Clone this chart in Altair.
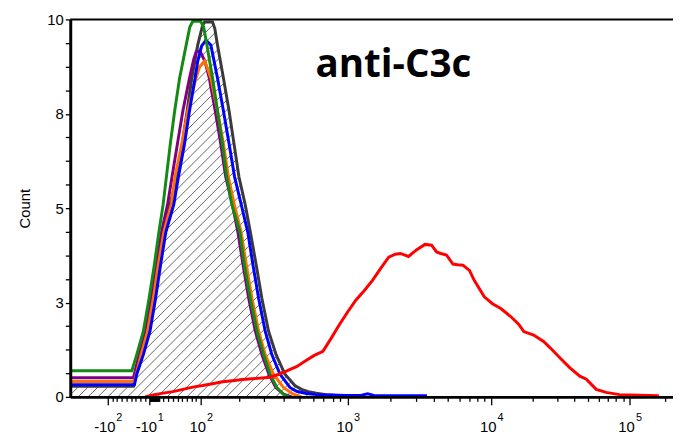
import altair as alt
import pandas as pd

# x = display channel along the biexponential fluorescence axis, y = count
gray_ch = [0, 64, 66, 72, 79, 84.5, 89.5, 95, 101, 108, 113.3, 118.3, 123, 129, 134, 136, 144, 146.3, 149, 155, 160.7,
           165.7, 170.7, 177, 182.3, 188.3, 194, 200.7, 208.3, 217.3, 227.3, 234, 241, 249, 259, 269, 279]
gray_ct = [0.28, 0.28, 0.55, 1.12, 1.74, 2.6, 3.48, 4.36, 5.1, 5.83, 6.71, 7.58, 8.45, 9.32, 9.85, 9.93, 9.93, 9.76, 9.32,
           8.45, 7.58, 6.71, 5.83, 5.1, 4.36, 3.48, 2.6, 1.74, 1.12, 0.6, 0.3, 0.2, 0.14, 0.1, 0.06, 0.04, 0]

purple_ch = [0, 64, 69.7, 75.7, 81.7, 87.3, 92.3, 98.5, 103, 108.5, 114, 120.7, 125, 127.5, 131.5, 136.3, 140.7, 146.7,
             152.3, 157.3, 164, 169.7, 175, 180.7, 187.3, 194, 201, 208, 216, 224]
purple_ct = [0.51, 0.51, 1.12, 1.74, 2.6, 3.48, 4.36, 5.1, 5.83, 6.71, 7.58, 8.45, 8.95, 9.15, 9.15, 8.89, 8.45, 7.58,
             6.71, 5.83, 5.1, 4.36, 3.48, 2.6, 1.74, 1.12, 0.6, 0.25, 0.07, 0]

orange_ch = [0, 65, 71.7, 78.3, 84, 89, 94.7, 102.3, 106, 113, 119, 127.3, 131, 136, 139, 142.3, 149, 155, 160, 166,
             173, 178.3, 184, 190.7, 197.3, 205.7, 215.7, 225.7, 234]
orange_ct = [0.41, 0.41, 1.12, 1.74, 2.6, 3.48, 4.36, 5.1, 5.83, 6.71, 7.58, 8.45, 8.75, 8.9, 8.7, 8.45, 7.58, 6.71,
             5.83, 5.1, 4.36, 3.48, 2.6, 1.74, 1.12, 0.6, 0.25, 0.07, 0]

blue_ch = [0, 65, 67.3, 74, 80.7, 86.3, 91.3, 96.7, 104.8, 109.5, 115.7, 120.7, 126.3, 129, 133, 137.3, 142.3, 149, 155,
           160.7, 166.3, 173, 179.7, 185, 190.7, 197.3, 204, 212.3, 222.3, 229, 239, 249, 264, 279, 294, 301, 307,
           329, 361]
blue_ct = [0.32, 0.32, 0.6, 1.12, 1.74, 2.6, 3.48, 4.36, 5.1, 5.83, 6.71, 7.58, 8.45, 8.89, 9.3, 9.45, 9.32, 8.45, 7.58,
           6.71, 5.83, 5.1, 4.36, 3.48, 2.6, 1.74, 1.12, 0.6, 0.25, 0.15, 0.09, 0.06, 0.05, 0.04, 0.04, 0.08, 0.04,
           0.03, 0.03]

green_ch = [0, 62.3, 67.3, 74, 79.7, 85, 89.7, 94, 97.3, 101.3, 105.7, 110.7, 117.3, 121, 124, 132, 135, 138.3, 144, 149,
            154, 158.3, 163.5, 171.7, 176.3, 182.3, 189, 195.7, 202.3, 209, 215.7, 221]
green_ct = [0.69, 0.69, 1.12, 1.74, 2.6, 3.48, 4.36, 5.1, 5.83, 6.71, 7.58, 8.45, 9.32, 9.8, 9.95, 9.95, 9.8, 9.32, 8.45,
            7.58, 6.71, 5.83, 5.1, 4.36, 3.48, 2.6, 1.74, 1.12, 0.6, 0.25, 0.07, 0]

red_ch = [75.7, 84, 94, 104, 114, 124, 134, 144, 154, 164, 174, 184, 194, 202, 209, 216, 222, 229, 239, 247, 255.7, 264,
          272.3, 280.7, 289, 297, 305.7, 314, 322.3, 329, 334, 338, 342.3, 350.7, 359, 365.7, 370.7, 375, 380.7,
          387.3, 392, 397.3, 404, 409, 419, 427.3, 435.7, 445.7, 454, 459, 469, 479, 485.7, 495.7, 505.7, 515.7,
          522.3, 532.3, 542.3, 555.7, 595.7]
red_ct = [0, 0.05, 0.1, 0.14, 0.2, 0.26, 0.3, 0.35, 0.4, 0.43, 0.46, 0.48, 0.5, 0.52, 0.58, 0.65, 0.72, 0.8, 0.97, 1.1,
          1.21, 1.55, 1.91, 2.25, 2.56, 2.8, 3.08, 3.4, 3.7, 3.78, 3.8, 3.76, 3.72, 3.9, 4.04, 4.02, 3.84, 3.8, 3.76,
          3.52, 3.5, 3.49, 3.35, 3.08, 2.65, 2.47, 2.34, 2.13, 1.92, 1.73, 1.64, 1.47, 1.3, 1.03, 0.77, 0.55, 0.47,
          0.2, 0.12, 0.06, 0.03]

# axis: major tick channels with their labels (base, exponent)
major_ch = [38, 80, 132, 280.7, 426, 566]
major_base = ["-10", "-10", "10", "10", "10", "10"]
major_exp = ["2", "1", "2", "3", "4", "5"]
minor_ch = [42.7, 47.4, 52.1, 56.8, 61.5, 66.2, 70.9, 75.6,
            80.5, 81, 81.2, 81.7, 82.2, 82.6, 83.1, 83.6, 84.1, 84.5, 85, 85.5, 85.9, 86.4, 86.9, 87.4, 87.8, 88.3,
            88.8, 89.2, 89.7,
            94.4, 99.1, 103.8, 108.5, 113.2, 117.9, 122.6, 127.3,
            170.7, 196.3, 215.7, 232.3, 245.7, 256.3, 266.3, 273.3,
            324.4, 350, 368.2, 382.3, 393.8, 403.5, 411.9, 419.4,
            468.1, 492.8, 510.3, 523.9, 534.9, 544.3, 552.4, 559.6, 602]
y_ticks = [i * 0.625 for i in range(17)]

colors = {"gray": "#3a3a3a", "purple": "#800080", "orange": "#ff7000",
          "blue": "#0000ff", "green": "#138a13", "red": "#ff0000"}
series = [("gray", gray_ch, gray_ct), ("purple", purple_ch, purple_ct), ("orange", orange_ch, orange_ct),
          ("blue", blue_ch, blue_ct), ("green", green_ch, green_ct), ("red", red_ch, red_ct)]

rows = []
for name, chs, cts in series:
    for i, (c, v) in enumerate(zip(chs, cts)):
        rows.append({"series": name, "ch": c, "count": v, "idx": i})
df = pd.DataFrame(rows)

mask_df = pd.DataFrame({"ch": gray_ch + [610], "count": gray_ct + [0]})
major_df = pd.DataFrame({"ch": major_ch, "base": major_base, "exp": major_exp,
                         "neg": [b.startswith("-") for b in major_base]})
frame_df = pd.DataFrame({"ch": [0], "ch2": [610], "count": [10]})

W, H = 610, 382
FONT = "Liberation Sans"
xscale = alt.Scale(domain=[0, 610], zero=False, nice=False)
yscale = alt.Scale(domain=[0, 10], zero=False, nice=False)
all_xticks = sorted(major_ch + minor_ch)
major_test = "indexof([" + ",".join(str(v) for v in major_ch) + "], datum.value) >= 0"

X = alt.X("ch:Q", scale=xscale, title=None,
          axis=alt.Axis(values=all_xticks, labels=False, grid=False, domainColor="black", domainWidth=3,
                        tickColor="black", tickWidth=1.3,
                        tickSize={"condition": {"test": major_test, "value": 8}, "value": 4.5},
                        zindex=1))
Y = alt.Y("count:Q", scale=yscale, title="Count",
          axis=alt.Axis(values=y_ticks, grid=False, domainColor="black", domainWidth=3, tickColor="black",
                        tickWidth=1.3, tickSize=5, labelPadding=2, labelFont=FONT, labelFontSize=15,
                        labelColor="black", labelOverlap=False,
                        labelExpr="indexof([0, 2.5, 5, 7.5, 10], datum.value) >= 0 ? '' + round(datum.value) : ''",
                        titleFont=FONT, titleFontSize=15, titleFontWeight="normal", titleColor="black",
                        titleX=-46, titleY=191, titleBaseline="middle", titleAlign="center", titleAngle=-90,
                        zindex=1))

hatch = alt.Chart(alt.sequence(0, 101, as_="i")).transform_calculate(
    ch="datum.i * 10 - 382", ch2="datum.i * 10", count="0", count2="10"
).mark_rule(color="#555555", strokeWidth=0.9, clip=True).encode(
    x=X, x2="ch2:Q", y=Y, y2="count2:Q")

mask = alt.Chart(mask_df).mark_area(color="white", opacity=1, clip=True).encode(
    x=X, y=Y, y2=alt.Y2(datum=10))

layers = [hatch, mask]
for name, _, _ in series:
    layers.append(
        alt.Chart(df).transform_filter(alt.datum.series == name).mark_line(
            color=colors[name], strokeWidth=3, clip=True).encode(x=X, y=Y, order="idx:Q"))

frame = alt.Chart(frame_df).mark_rule(color="black", strokeWidth=2).encode(x=X, x2="ch2:Q", y=Y)
layers.append(frame)

base_lbl = alt.Chart(major_df).mark_text(font=FONT, fontSize=15, color="black", align="center",
                                         baseline="alphabetic", dx=-3).encode(
    x=X, y=alt.value(418), text="base:N")
exp_pos = alt.Chart(major_df).transform_filter("!datum.neg").mark_text(
    font=FONT, fontSize=11, color="black", align="left", baseline="alphabetic", dx=6.5).encode(
    x=X, y=alt.value(406), text="exp:N")
exp_neg = alt.Chart(major_df).transform_filter("datum.neg").mark_text(
    font=FONT, fontSize=11, color="black", align="left", baseline="alphabetic", dx=8.5).encode(
    x=X, y=alt.value(406), text="exp:N")
title = alt.Chart(pd.DataFrame({"t": ["anti-C3c"]})).mark_text(
    font="Open Sans", fontSize=39, fontWeight="bold", color="black", align="center",
    baseline="alphabetic").encode(text="t:N", x=alt.value(327), y=alt.value(58))
layers += [base_lbl, exp_pos, exp_neg, title]

chart = alt.layer(*layers).properties(
    width=W, height=H,
    autosize=alt.AutoSizeParams(type="none"),
    padding={"left": 63, "top": 9, "right": 0, "bottom": 37},
).configure_view(stroke=None).configure(background="white")

chart.save("out.html", embed_options={"renderer": "svg", "actions": False})
